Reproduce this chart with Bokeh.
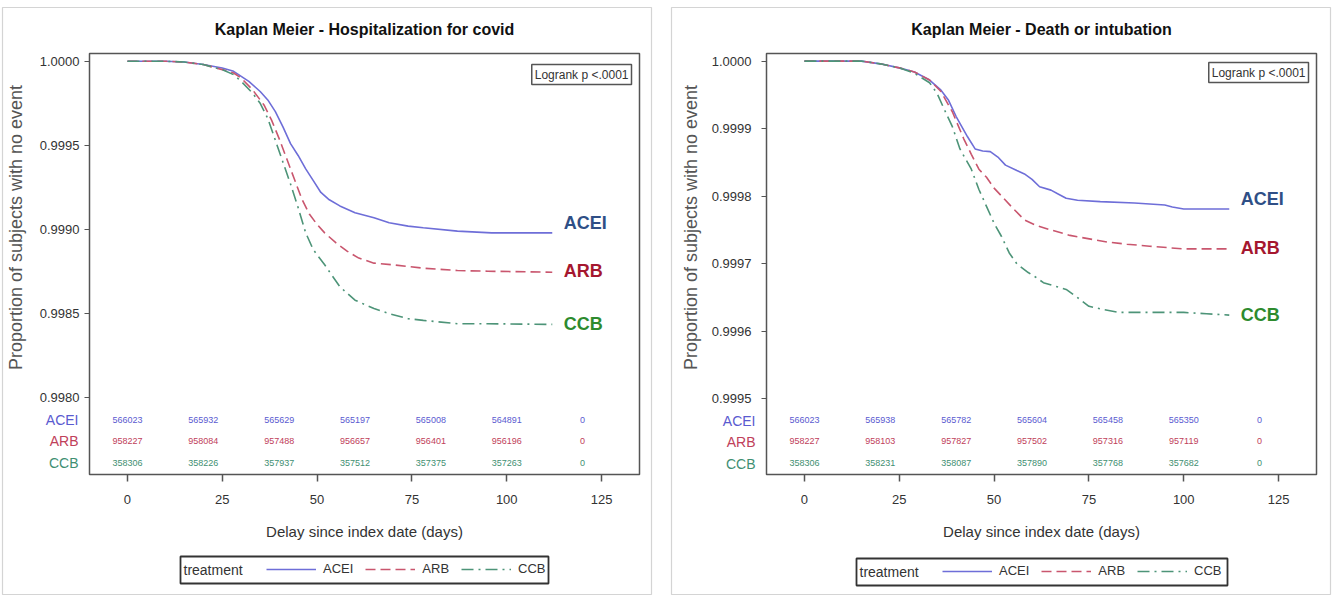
import math
from bokeh.plotting import figure
from bokeh.layouts import row, column
from bokeh.models import (FixedTicker, NumeralTickFormatter, Label, Legend, LegendItem, Range1d)
from bokeh.core.properties import value
from bokeh.embed import file_html
from bokeh.resources import INLINE

# ---------------- data ----------------
groups = ["ACEI", "ARB", "CCB"]
atrisk_days = [0, 20, 40, 60, 80, 100, 120]
x_ticks = [0, 25, 50, 75, 100, 125]

# Panel 1: Hospitalization for covid
hosp_acei_days = [0, 10, 15, 20, 25, 28, 30, 32, 35, 37, 39, 41, 43, 45, 47, 49, 51, 53, 56, 60, 65, 69, 74, 78, 87, 96, 105, 112]
hosp_acei_surv = [1.0, 1.0, 0.999995, 0.99998, 0.99996, 0.99994, 0.99991, 0.99988, 0.99982, 0.99977, 0.99970, 0.99961,
                  0.99951, 0.99944, 0.99936, 0.99929, 0.99922, 0.99918, 0.99914, 0.99910, 0.99907, 0.99904, 0.99902,
                  0.99901, 0.99899, 0.99898, 0.99898, 0.99898]
hosp_arb_days = [0, 10, 15, 20, 25, 28, 30, 33, 36, 38, 40, 42, 44, 46, 48, 50, 52, 55, 58, 61, 65, 70, 78, 87, 95, 112]
hosp_arb_surv = [1.0, 1.0, 0.999995, 0.99998, 0.99995, 0.99993, 0.99990, 0.99983, 0.99974, 0.99965, 0.99954, 0.99942,
                 0.99930, 0.99918, 0.99909, 0.99903, 0.99898, 0.99892, 0.99887, 0.99883, 0.99880, 0.99879, 0.99877,
                 0.998756, 0.998752, 0.998746]
hosp_ccb_days = [0, 10, 15, 20, 25, 28, 30, 33, 35, 37, 39, 41, 43, 45, 47, 49, 52, 56, 60, 65, 69, 74, 78, 87, 95, 112]
hosp_ccb_surv = [1.0, 1.0, 0.999995, 0.99998, 0.99995, 0.99992, 0.99988, 0.99981, 0.99975, 0.99966, 0.99953, 0.99940,
                 0.99927, 0.99913, 0.99898, 0.99888, 0.99879, 0.99866, 0.99858, 0.99853, 0.99850, 0.99847, 0.99846,
                 0.99844, 0.99844, 0.998436]
hosp_atrisk_acei = [566023, 565932, 565629, 565197, 565008, 564891, 0]
hosp_atrisk_arb = [958227, 958084, 957488, 956657, 956401, 956196, 0]
hosp_atrisk_ccb = [358306, 358226, 357937, 357512, 357375, 357263, 0]
hosp_y_ticks = [0.9980, 0.9985, 0.9990, 0.9995, 1.0000]

# Panel 2: Death or intubation
death_acei_days = [0, 15, 20, 25, 29, 33, 36, 38, 40, 43, 45, 47, 49, 51, 53, 56, 58, 60, 62, 65, 67, 69, 72, 78, 87, 95, 97, 100, 112]
death_acei_surv = [1.0, 1.0, 0.999996, 0.99999, 0.999984, 0.999972, 0.999957, 0.999942, 0.999918, 0.999888, 0.99987,
                   0.999867, 0.999866, 0.999858, 0.999846, 0.999838, 0.999833, 0.999825, 0.999814, 0.999809, 0.999803,
                   0.999797, 0.999794, 0.999792, 0.99979, 0.999787, 0.999784, 0.999781, 0.999781]
death_arb_days = [0, 15, 20, 25, 29, 33, 36, 39, 42, 44, 46, 48, 50, 52, 55, 58, 61, 65, 70, 74, 80, 85, 91, 100, 112]
death_arb_surv = [1.0, 1.0, 0.999996, 0.99999, 0.999984, 0.999972, 0.999955, 0.999925, 0.999885, 0.999862, 0.99984,
                  0.999828, 0.999812, 0.9998, 0.999782, 0.999765, 0.999757, 0.99975, 0.999742, 0.999738, 0.999732,
                  0.999729, 0.999726, 0.999722, 0.999722]
death_ccb_days = [0, 15, 20, 25, 29, 33, 35, 37, 39, 41, 44, 46, 48, 50, 52, 54, 56, 59, 61, 63, 66, 69, 72, 75, 79, 83, 100, 106, 112]
death_ccb_surv = [1.0, 1.0, 0.999996, 0.99999, 0.999982, 0.999968, 0.999952, 0.999927, 0.999903, 0.99987, 0.99984,
                  0.99981, 0.999785, 0.99976, 0.99974, 0.999716, 0.9997, 0.999687, 0.99968, 0.999672, 0.999667,
                  0.999662, 0.99965, 0.999637, 0.999632, 0.999628, 0.999628, 0.999626, 0.999624]
death_atrisk_acei = [566023, 565938, 565782, 565604, 565458, 565350, 0]
death_atrisk_arb = [958227, 958103, 957827, 957502, 957316, 957119, 0]
death_atrisk_ccb = [358306, 358231, 358087, 357890, 357768, 357682, 0]
death_y_ticks = [0.9995, 0.9996, 0.9997, 0.9998, 0.9999, 1.0000]

# ---------------- styles ----------------
FONT = "Liberation Sans"
W, H = 1332, 598
line_colors = {"ACEI": "#6e6ed8", "ARB": "#c9566e", "CCB": "#4d9478"}
line_dash = {"ACEI": "solid", "ARB": "10 5", "CCB": "12 5 2 5"}
risk_colors = {"ACEI": "#5a5ad0", "ARB": "#c0405a", "CCB": "#3f8f72"}
end_colors = {"ACEI": "#2f4f86", "ARB": "#a5172f", "CCB": "#2e8b2e"}
end_offsets = {"ACEI": -10, "ARB": -1, "CCB": 0}
risk_rows_px = {"ACEI": 55, "ARB": 34, "CCB": 12}  # distance above frame bottom
TOP = 53


def make_panel(title, width, b_left, b_right, b_bottom, y_range, y_ticks, curves, atrisk, ylab_standoff):
    p = figure(width=width, height=H, output_backend="svg", toolbar_location=None,
               x_range=Range1d(-10, 135), y_range=Range1d(*y_range),
               min_border_left=b_left, min_border_right=b_right, min_border_top=TOP,
               min_border_bottom=b_bottom, background_fill_color="white",
               border_fill_color="white")
    p.title.text = title
    p.title.align = "center"
    p.title.text_font = FONT
    p.title.text_font_size = "16px"
    p.title.text_font_style = "bold"
    p.title.text_color = "#111111"
    p.title.standoff = 31
    p.grid.visible = False
    p.outline_line_color = "#555555"
    p.outline_line_width = 1.5

    xa = p.xaxis[0]
    xa.ticker = FixedTicker(ticks=x_ticks)
    xa.axis_label = "Delay since index date (days)"
    xa.axis_label_text_font = FONT
    xa.axis_label_text_font_size = "15px"
    xa.axis_label_text_font_style = "normal"
    xa.axis_label_text_color = "#333333"
    xa.axis_label_standoff = 16
    xa.major_label_text_font = FONT
    xa.major_label_text_font_size = "13px"
    xa.major_label_text_color = "#333333"
    xa.major_label_standoff = 13
    xa.major_tick_out = 7
    xa.major_tick_in = 0
    xa.minor_tick_out = 0
    xa.minor_tick_in = 0
    xa.axis_line_color = "#555555"
    xa.major_tick_line_color = "#555555"
    xa.major_tick_line_width = 1.5

    ya = p.yaxis[0]
    ya.ticker = FixedTicker(ticks=y_ticks)
    ya.formatter = NumeralTickFormatter(format="0.0000")
    ya.major_label_text_font = FONT
    ya.major_label_text_font_size = "13px"
    ya.major_label_text_color = "#333333"
    ya.major_label_standoff = ylab_standoff
    ya.major_tick_out = 5
    ya.major_tick_in = 0
    ya.minor_tick_out = 0
    ya.minor_tick_in = 0
    ya.axis_line_color = "#555555"
    ya.major_tick_line_color = "#555555"

    frame_h = H - TOP - b_bottom
    frame_w = width - b_left - b_right
    y0, y1 = y_range

    for g in groups:
        d, s = curves[g]
        p.line(d, s, line_color=line_colors[g], line_width=1.6, line_dash=line_dash[g])
        p.text(x=[d[-1] + 3], y=[s[-1]], text=[g], text_font=value(FONT), text_font_size="18px",
               text_font_style="bold", text_color=end_colors[g], text_align="left",
               text_baseline="middle", y_offset=end_offsets[g])

    # number-at-risk table inside the frame
    for g in groups:
        ry = y0 + risk_rows_px[g] / frame_h * (y1 - y0)
        p.text(x=atrisk_days, y=[ry] * len(atrisk_days), text=[str(v) for v in atrisk[g]],
               text_font=value(FONT), text_font_size="9px", text_color=risk_colors[g],
               text_align="center", text_baseline="middle")

    # logrank box
    p.add_layout(Label(x=frame_w - 8, y=frame_h - 11, x_units="screen", y_units="screen",
                       text="Logrank p <.0001", text_font=FONT, text_font_size="12px",
                       text_color="#333333", text_align="right", text_baseline="top",
                       border_line_color="#555555", border_line_width=1.5,
                       background_fill_color="white", padding=3))
    return p


p1 = make_panel("Kaplan Meier - Hospitalization for covid", 660, 89, 21, 124,
                (0.997544, 1.0000458), hosp_y_ticks,
                {"ACEI": (hosp_acei_days, hosp_acei_surv), "ARB": (hosp_arb_days, hosp_arb_surv),
                 "CCB": (hosp_ccb_days, hosp_ccb_surv)},
                {"ACEI": hosp_atrisk_acei, "ARB": hosp_atrisk_arb, "CCB": hosp_atrisk_ccb}, 5)
p2 = make_panel("Kaplan Meier - Death or intubation", 672, 106, 16, 122,
                (0.999388, 1.0000113), death_y_ticks,
                {"ACEI": (death_acei_days, death_acei_surv), "ARB": (death_arb_days, death_arb_surv),
                 "CCB": (death_ccb_days, death_ccb_surv)},
                {"ACEI": death_atrisk_acei, "ARB": death_atrisk_arb, "CCB": death_atrisk_ccb}, 10)

# ---------------- transparent overlay (pixel coordinates) for texts outside the plot frames ----------------
ov = figure(width=W, height=H, output_backend="svg", toolbar_location=None,
            x_range=Range1d(0, W), y_range=Range1d(H, 0),
            min_border=0, background_fill_alpha=0, border_fill_alpha=0,
            outline_line_color=None, margin=(-H, 0, 0, 0))
ov.axis.visible = False
ov.grid.visible = False

# panel borders
ov.quad(left=[2, 671], right=[651, 1330], top=[7, 7], bottom=[594, 594],
        fill_alpha=0, line_color="#d4d4d4", line_width=1.2)

panels = [
    dict(ylab_x=15, row_x=78, rows={"ACEI": 419, "ARB": 440, "CCB": 462},
         box=(180, 548, 556, 583), glyph_x=266),
    dict(ylab_x=690, row_x=755, rows={"ACEI": 420, "ARB": 441, "CCB": 463},
         box=(856, 1227, 558, 585), glyph_x=942),
]
for pn in panels:
    ov.text(x=[pn["ylab_x"]], y=[227], text=["Proportion of subjects with no event"],
            angle=math.pi / 2, text_font=value(FONT), text_font_size="18px",
            text_color="#555555", text_align="center", text_baseline="middle")
    for g in groups:
        ov.text(x=[pn["row_x"]], y=[pn["rows"][g]], text=[g], text_font=value(FONT),
                text_font_size="14px", text_color=risk_colors[g], text_align="right",
                text_baseline="middle")
    l, r, t, b = pn["box"]
    ov.quad(left=[l], right=[r], top=[t], bottom=[b], fill_color="white", fill_alpha=1,
            line_color="#333333", line_width=1.8)
    ov.text(x=[l + 3], y=[(t + b) / 2], text=["treatment"], text_font=value(FONT),
            text_font_size="14px", text_color="#333333", text_align="left", text_baseline="middle")
    items = []
    for g in groups:
        rr = ov.line(x=[math.nan, math.nan], y=[math.nan, math.nan], line_color=line_colors[g],
                     line_width=1.6, line_dash=line_dash[g])
        items.append(LegendItem(label=g, renderers=[rr]))
    legend = Legend(items=items, orientation="horizontal",
                    location=(pn["glyph_x"] - 4, H - b + 3),
                    label_text_font=FONT, label_text_font_size="13px", label_text_color="#333333",
                    glyph_width=50, glyph_height=14, label_standoff=7, spacing=12, padding=4,
                    margin=0, border_line_alpha=0, background_fill_alpha=0)
    ov.add_layout(legend, "center")

layout = column(row(p1, p2, spacing=0), ov, spacing=0)
open("out.html", "w").write(file_html(layout, INLINE))
